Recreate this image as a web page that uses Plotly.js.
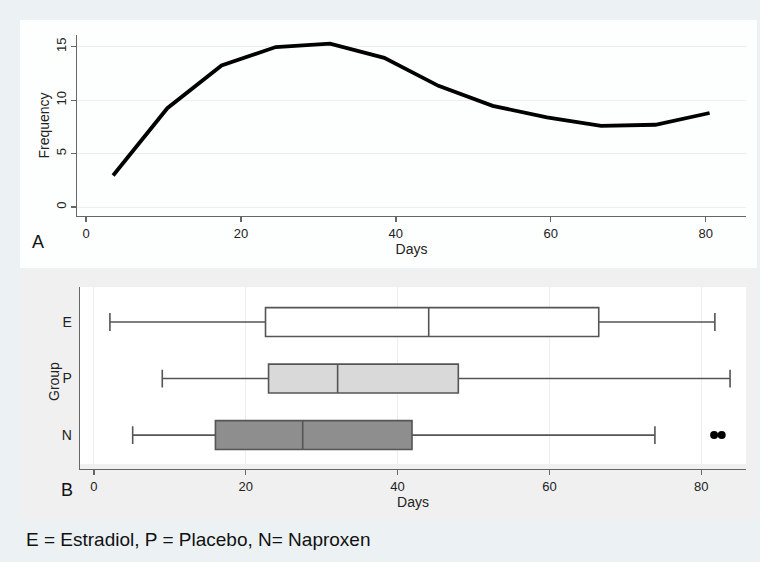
<!DOCTYPE html>
<html>
<head>
<meta charset="utf-8">
<script src="https://cdn.plot.ly/plotly-3.0.1.min.js"></script>
<style>html,body{margin:0;padding:0;background:#ecf2f4;}#chart{width:760px;height:562px;}</style>
</head>
<body>
<div id="chart"></div>
<script>
// Panel A: frequency by days
const days = [3.5, 10.5, 17.5, 24.5, 31.5, 38.5, 45.5, 52.5, 59.5, 66.5, 73.5, 80.5];
const frequency = [2.95, 9.25, 13.25, 14.97, 15.3, 13.96, 11.34, 9.47, 8.4, 7.6, 7.7, 8.8];

// Panel B: box plot summary by group
const groups = ['E', 'P', 'N'];
const lowerWhisker = [2.1, 9.0, 5.1];
const q1 = [22.6, 23.0, 16.0];
const median = [44.1, 32.1, 27.5];
const q3 = [66.5, 48.0, 41.9];
const upperWhisker = [81.8, 83.8, 73.9];
const outlierGroup = ['N', 'N'];
const outlierDays = [81.7, 82.7];

const fills = ['#ffffff', '#d9d9d9', '#8e8e8e'];
const F = 'Liberation Sans, Arial, sans-serif';

const traces = [{
  type: 'scatter', mode: 'lines', x: days, y: frequency,
  xaxis: 'x', yaxis: 'y',
  line: {color: '#000000', width: 3.8}, showlegend: false
}];
groups.forEach((g, i) => {
  traces.push({
    type: 'box', orientation: 'h', y: [g],
    q1: [q1[i]], median: [median[i]], q3: [q3[i]],
    lowerfence: [lowerWhisker[i]], upperfence: [upperWhisker[i]],
    xaxis: 'x2', yaxis: 'y2', width: 0.51, whiskerwidth: 0.62,
    fillcolor: fills[i], line: {color: '#555555', width: 1.6},
    boxpoints: false, showlegend: false
  });
});
traces.push({
  type: 'scatter', mode: 'markers', x: outlierDays, y: outlierGroup,
  xaxis: 'x2', yaxis: 'y2',
  marker: {color: '#000000', size: 8}, showlegend: false
});

const titleFont = {family: F, size: 14, color: '#222222'};
const axisCommon = {
  showline: true, linecolor: '#666666', linewidth: 1.3,
  ticks: 'outside', ticklen: 5, tickcolor: '#666666', tickwidth: 1.3,
  tickfont: {family: F, size: 13, color: '#222222'},
  zeroline: false, gridcolor: '#eeeeee', gridwidth: 1, automargin: false
};

const layout = {
  width: 760, height: 562,
  margin: {l: 0, r: 0, t: 0, b: 0},
  paper_bgcolor: '#ecf2f4', plot_bgcolor: 'rgba(0,0,0,0)',
  showlegend: false,
  xaxis: Object.assign({}, axisCommon, {
    domain: [77/760, 746/760], anchor: 'y', range: [-1.16, 85.2],
    tickvals: [0, 20, 40, 60, 80], showgrid: false,
    title: {text: 'Days', font: titleFont, standoff: 1}
  }),
  yaxis: Object.assign({}, axisCommon, {
    domain: [1 - 216/562, 1 - 35/562], anchor: 'x', range: [-0.84, 16.1],
    tickvals: [0, 5, 10, 15], tickangle: -90, showgrid: true,
    title: {text: 'Frequency', font: titleFont, standoff: 0}
  }),
  xaxis2: Object.assign({}, axisCommon, {
    domain: [80/760, 746/760], anchor: 'y2', range: [-1.84, 85.9],
    tickvals: [0, 20, 40, 60, 80], showgrid: true,
    title: {text: 'Days', font: titleFont, standoff: 1}
  }),
  yaxis2: Object.assign({}, axisCommon, {
    domain: [1 - 469/562, 1 - 287/562], anchor: 'x2', range: [-0.6, 2.62],
    type: 'category', categoryorder: 'array', categoryarray: ['N', 'P', 'E'],
    showgrid: false, ticklen: 4, tickcolor: 'rgba(0,0,0,0)',
    tickfont: {family: F, size: 14, color: '#222222'}
  }),
  shapes: [
    {type: 'rect', xref: 'paper', yref: 'paper', x0: 20/760, x1: 757/760, y0: 1 - 268/562, y1: 1 - 20/562,
     fillcolor: '#fdfefe', line: {width: 0}, layer: 'below'},
    {type: 'rect', xref: 'paper', yref: 'paper', x0: 18/760, x1: 757/760, y0: 1 - 520/562, y1: 1 - 270/562,
     fillcolor: '#f0f0f0', line: {width: 0}, layer: 'below'},
    {type: 'rect', xref: 'paper', yref: 'paper', x0: 80/760, x1: 746/760, y0: 1 - 464/562, y1: 1 - 287/562,
     fillcolor: '#ffffff', line: {width: 0}, layer: 'below'}
  ],
  annotations: [
    {text: 'Group', xref: 'paper', yref: 'paper', x: 54/760, y: 1 - 382/562, textangle: -90, showarrow: false,
     xanchor: 'center', yanchor: 'middle', font: titleFont},
    {text: 'A', xref: 'paper', yref: 'paper', x: 38/760, y: 1 - 242/562, showarrow: false,
     xanchor: 'center', yanchor: 'middle', font: {family: F, size: 18, color: '#111111'}},
    {text: 'B', xref: 'paper', yref: 'paper', x: 67/760, y: 1 - 490/562, showarrow: false,
     xanchor: 'center', yanchor: 'middle', font: {family: F, size: 18, color: '#111111'}},
    {text: 'E = Estradiol, P = Placebo, N= Naproxen', xref: 'paper', yref: 'paper',
     x: 24/760, y: 1 - 539/562, xanchor: 'left', yanchor: 'middle', showarrow: false,
     font: {family: F, size: 19, color: '#111111'}}
  ]
};

Plotly.newPlot('chart', traces, layout, {displayModeBar: false, staticPlot: true});
</script>
</body>
</html>
